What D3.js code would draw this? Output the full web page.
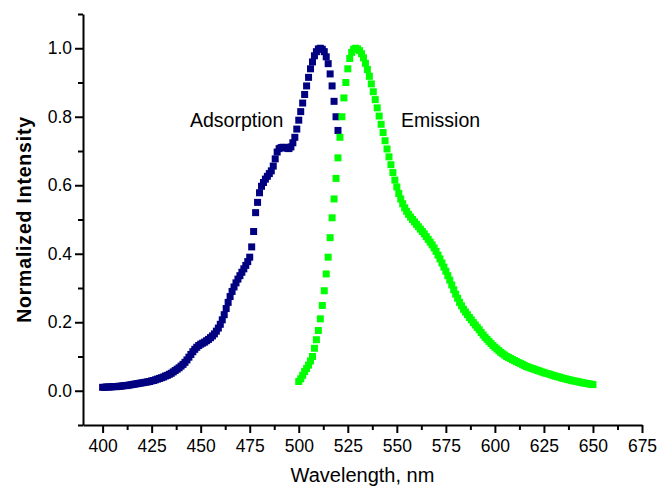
<!DOCTYPE html>
<html>
<head>
<meta charset="utf-8">
<script src="https://cdn.jsdelivr.net/npm/d3@7"></script>
<style>
  html, body { margin: 0; padding: 0; background: #fff; }
  svg { display: block; }
  text { font-family: "Liberation Sans", Arial, sans-serif; fill: #000; }
</style>
</head>
<body>
<svg id="chart" width="659" height="488"></svg>
<script>
// ---- data ----
const absStart = 400; // nm, 1 nm step
const absValues = [
  0.010,0.010,0.011,0.011,0.011,0.012,0.012,0.012,0.013,0.013, // 400-409
  0.014,0.015,0.015,0.016,0.017,0.018,0.019,0.020,0.021,0.022, // 410-419
  0.023,0.024,0.025,0.026,0.027,0.029,0.030,0.032,0.034,0.036, // 420-429
  0.038,0.040,0.043,0.045,0.048,0.051,0.055,0.059,0.063,0.067, // 430-439
  0.072,0.077,0.083,0.090,0.098,0.106,0.114,0.121,0.127,0.132, // 440-449
  0.136,0.139,0.142,0.146,0.150,0.155,0.160,0.166,0.174,0.183, // 450-459
  0.194,0.207,0.222,0.240,0.258,0.275,0.290,0.303,0.315,0.326, // 460-469
  0.336,0.346,0.356,0.366,0.377,0.390,0.420,0.465,0.520,0.550, // 470-479
  0.578,0.597,0.608,0.618,0.626,0.634,0.642,0.656,0.677,0.697, // 480-489
  0.707,0.710,0.711,0.710,0.708,0.707,0.712,0.724,0.740,0.764, // 490-499
  0.790,0.815,0.840,0.865,0.890,0.915,0.940,0.960,0.978,0.990, // 500-509
  0.998,1.000,0.997,0.990,0.975,0.955,0.925,0.890,0.845,0.800, // 510-519
  0.760                                                        // 520
];
const emStart = 500; // nm, 1 nm step
const emValues = [
  0.027,0.035,0.045,0.056,0.065,0.075,0.087,0.100,0.124,0.149, // 500-509
  0.176,0.210,0.249,0.292,0.341,0.390,0.447,0.505,0.560,0.620, // 510-519
  0.680,0.740,0.800,0.855,0.900,0.940,0.970,0.988,0.997,1.000, // 520-529
  0.998,0.993,0.984,0.972,0.956,0.938,0.918,0.896,0.873,0.850, // 530-539
  0.826,0.802,0.778,0.754,0.730,0.706,0.683,0.660,0.637,0.615, // 540-549
  0.595,0.576,0.560,0.546,0.534,0.524,0.515,0.507,0.500,0.493, // 550-559
  0.486,0.479,0.472,0.465,0.458,0.450,0.442,0.434,0.426,0.417, // 560-569
  0.407,0.396,0.385,0.373,0.361,0.349,0.336,0.323,0.309,0.295, // 570-579
  0.282,0.270,0.258,0.248,0.238,0.230,0.222,0.214,0.207,0.199, // 580-589
  0.192,0.185,0.178,0.170,0.163,0.156,0.150,0.144,0.138,0.132, // 590-599
  0.127,0.122,0.117,0.112,0.108,0.104,0.100,0.097,0.094,0.091, // 600-609
  0.088,0.085,0.082,0.080,0.077,0.074,0.071,0.069,0.067,0.065, // 610-619
  0.063,0.061,0.059,0.057,0.055,0.053,0.051,0.050,0.048,0.046, // 620-629
  0.044,0.0425,0.041,0.0395,0.0375,0.036,0.0346,0.0332,0.0318,0.0304, // 630-639
  0.029,0.028,0.0268,0.0256,0.0244,0.023,0.022,0.021,0.020,0.019, // 640-649
  0.018                                                        // 650
];
const xMajorTicks = [400,425,450,475,500,525,550,575,600,625,650,675];
const yMajorTicks = [0.0,0.2,0.4,0.6,0.8,1.0];
const xDomain = [390, 675];
const yDomain = [-0.1, 1.1];

const absorption = absValues.map((v, i) => ({ w: absStart + i, v }));
const emission = emValues.map((v, i) => ({ w: emStart + i, v }));

// ---- layout ----
const svg = d3.select("#chart");
const x = d3.scaleLinear().domain(xDomain).range([83, 642]);
const y = d3.scaleLinear().domain(yDomain).range([425, 14]);

const xMinor = xMajorTicks.slice(0, -1).map(t => t + 12.5);
const yMinor = d3.range(-0.1, 1.15, 0.2).map(d => +d.toFixed(2));

const axisColor = "#000";

// minor ticks
const gx = svg.append("g").attr("transform", `translate(0,${y(yDomain[0])})`);
gx.call(d3.axisBottom(x).tickValues(xMinor).tickSize(5).tickFormat(""))
  .call(g => g.select(".domain").remove());
gx.selectAll(".tick line").attr("stroke", axisColor).attr("stroke-width", 2);

const gy = svg.append("g").attr("transform", `translate(${x(xDomain[0])},0)`);
gy.call(d3.axisLeft(y).tickValues(yMinor).tickSize(5).tickFormat(""))
  .call(g => g.select(".domain").remove());
gy.selectAll(".tick line").attr("stroke", axisColor).attr("stroke-width", 2);

// major axes
const xAxis = svg.append("g").attr("transform", `translate(0,${y(yDomain[0])})`)
  .call(d3.axisBottom(x).tickValues(xMajorTicks).tickSize(8).tickSizeOuter(0).tickPadding(7).tickFormat(d3.format("d")));
xAxis.select(".domain").attr("stroke", axisColor).attr("stroke-width", 2);
xAxis.selectAll(".tick line").attr("stroke", axisColor).attr("stroke-width", 2);
xAxis.selectAll(".tick text").attr("font-size", 17.5).attr("font-family", "Liberation Sans, Arial, sans-serif").attr("fill", "#000");

const yAxis = svg.append("g").attr("transform", `translate(${x(xDomain[0])},0)`)
  .call(d3.axisLeft(y).tickValues(yMajorTicks).tickSize(8).tickSizeOuter(0).tickPadding(3).tickFormat(d3.format(".1f")));
yAxis.select(".domain").attr("stroke", axisColor).attr("stroke-width", 2);
yAxis.selectAll(".tick line").attr("stroke", axisColor).attr("stroke-width", 2);
yAxis.selectAll(".tick text").attr("font-size", 17.5).attr("font-family", "Liberation Sans, Arial, sans-serif").attr("fill", "#000");

// ---- markers ----
const ms = 7;
svg.append("g").selectAll("rect.abs").data(absorption).join("rect")
  .attr("class", "abs")
  .attr("x", d => x(d.w) - ms / 2).attr("y", d => y(d.v) - ms / 2)
  .attr("width", ms).attr("height", ms).attr("fill", "#000080");

svg.append("g").selectAll("rect.em").data(emission).join("rect")
  .attr("class", "em")
  .attr("x", d => x(d.w) - ms / 2).attr("y", d => y(d.v) - ms / 2)
  .attr("width", ms).attr("height", ms).attr("fill", "#00ff00");

// ---- labels ----
svg.append("text").attr("x", 190).attr("y", 127).attr("font-size", 19.5).text("Adsorption");
svg.append("text").attr("x", 401).attr("y", 127).attr("font-size", 19.5).text("Emission");

svg.append("text")
  .attr("x", (x.range()[0] + x.range()[1]) / 2).attr("y", 482)
  .attr("text-anchor", "middle").attr("font-size", 20)
  .text("Wavelength, nm");

svg.append("text")
  .attr("transform", `translate(31,${(y.range()[0] + y.range()[1]) / 2}) rotate(-90)`)
  .attr("text-anchor", "middle").attr("font-size", 19.5).attr("font-weight", "bold")
  .attr("letter-spacing", 0.8)
  .text("Normalized Intensity");
</script>
</body>
</html>
